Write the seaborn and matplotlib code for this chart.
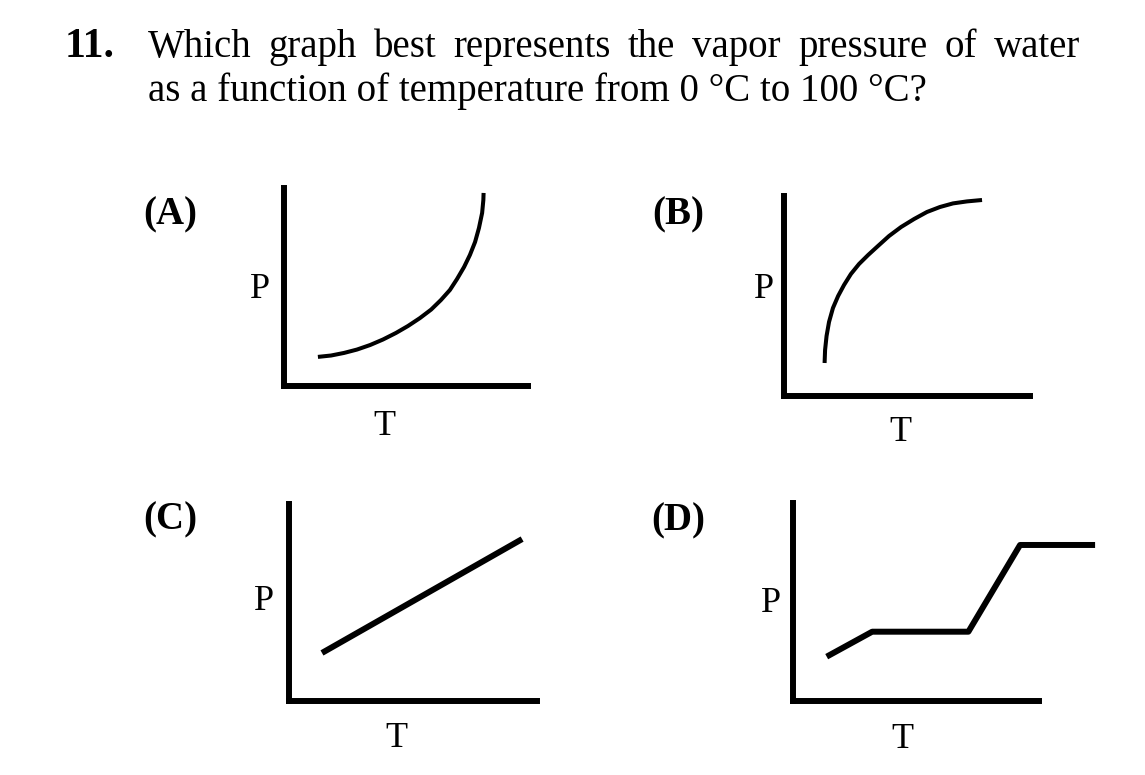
import matplotlib
matplotlib.use("Agg")
import matplotlib.pyplot as plt
import seaborn as sns

# sketch curves, both axes on a 0-100 scale within each small panel
a_temp = [13.9, 19.3, 24.6, 29.9, 35.3, 40.6, 45.9, 50.8, 55.7, 60.3,
          64.3, 68.0, 70.9, 73.8, 76.2, 78.3, 79.9, 81.2, 81.7, 81.8]
a_pres = [14.7, 15.4, 16.7, 18.4, 20.7, 23.5, 26.8, 30.3, 34.3, 38.6,
          43.4, 48.5, 54.0, 60.1, 66.2, 72.7, 79.8, 87.4, 93.9, 97.5]

b_temp = [16.5, 16.7, 17.3, 18.3, 19.9, 22.0, 24.4, 27.2, 30.5, 34.2,
          38.2, 42.7, 47.6, 52.9, 58.1, 63.4, 68.7, 74.4, 80.5]
b_pres = [16.5, 23.0, 30.0, 37.0, 44.0, 50.0, 55.5, 61.0, 66.0, 70.5,
          75.0, 80.0, 84.5, 88.5, 92.0, 94.5, 96.3, 97.3, 98.0]

c_temp = [13.3, 94.0]
c_pres = [24.4, 82.2]

d_temp = [13.7, 32.2, 71.3, 92.3, 122.8]
d_pres = [22.4, 35.0, 35.0, 78.8, 78.8]

letters = ["(A)", "(B)", "(C)", "(D)"]
question_no = "11."
question = ["Which graph best represents the vapor pressure of water",
            "as a function of temperature from 0 \u00b0C to 100 \u00b0C?"]

W, H = 1145, 775

sns.set_theme(style="white")
plt.rcParams["font.family"] = ["Liberation Serif", "DejaVu Serif"]
plt.rcParams["text.color"] = "black"

fig = plt.figure(figsize=(W / 100, H / 100), dpi=100)
fig.patch.set_facecolor("white")


def fx(x):
    return x / W


def fy(y):
    return 1 - y / H


def panel(left, right, top, bottom, temp, pres, lw):
    ax = fig.add_axes([fx(left), fy(bottom), (right - left) / W, (bottom - top) / H])
    sns.lineplot(x=temp, y=pres, ax=ax, color="black", linewidth=lw,
                 sort=False, estimator=None, clip_on=False,
                 solid_capstyle="butt", solid_joinstyle="round")
    ax.set_xlim(0, 100)
    ax.set_ylim(0, 100)
    ax.set_xticks([])
    ax.set_yticks([])
    ax.set_facecolor("none")
    sns.despine(ax=ax)
    for side in ["left", "bottom"]:
        ax.spines[side].set_color("black")
        ax.spines[side].set_linewidth(4.3)
        ax.spines[side].set_capstyle("projecting")
    return ax


panel(284, 528, 188, 386, a_temp, a_pres, 2.9)
panel(784, 1030, 196, 396, b_temp, b_pres, 2.9)
panel(289, 537, 504, 701, c_temp, c_pres, 4.3)
panel(793, 1039, 503, 701, d_temp, d_pres, 4.3)

# question text; the first line is justified to the right margin
fig.text(fx(65), fy(57), question_no, fontsize=30, fontweight="bold",
         ha="left", va="baseline")
words = question[0].split()
objs = [fig.text(0, fy(57), w, fontsize=28, ha="left", va="baseline") for w in words]
renderer = fig.canvas.get_renderer()
widths = [o.get_window_extent(renderer).width for o in objs]
gap = (1080 - 148 - sum(widths)) / (len(words) - 1)
x = 148
for o, wd in zip(objs, widths):
    o.set_x(fx(x))
    x += wd + gap
fig.text(fx(148), fy(101), question[1], fontsize=28, ha="left", va="baseline")

# panel letters and axis names
letter_pos = [(170, 224), (678, 224), (170, 529), (678, 530)]
for lab, (x, y) in zip(letters, letter_pos):
    fig.text(fx(x), fy(y), lab, fontsize=28, fontweight="bold",
             ha="center", va="baseline")

p_pos = [(260, 298), (764, 298), (264, 610), (771, 612)]
t_pos = [(384, 435), (900, 441), (396, 747), (902, 748)]
for (x, y) in p_pos:
    fig.text(fx(x), fy(y), "P", fontsize=26, ha="center", va="baseline")
for (x, y) in t_pos:
    fig.text(fx(x), fy(y), "T", fontsize=26, ha="center", va="baseline")

fig.savefig("out.png", dpi=100, facecolor="white")
